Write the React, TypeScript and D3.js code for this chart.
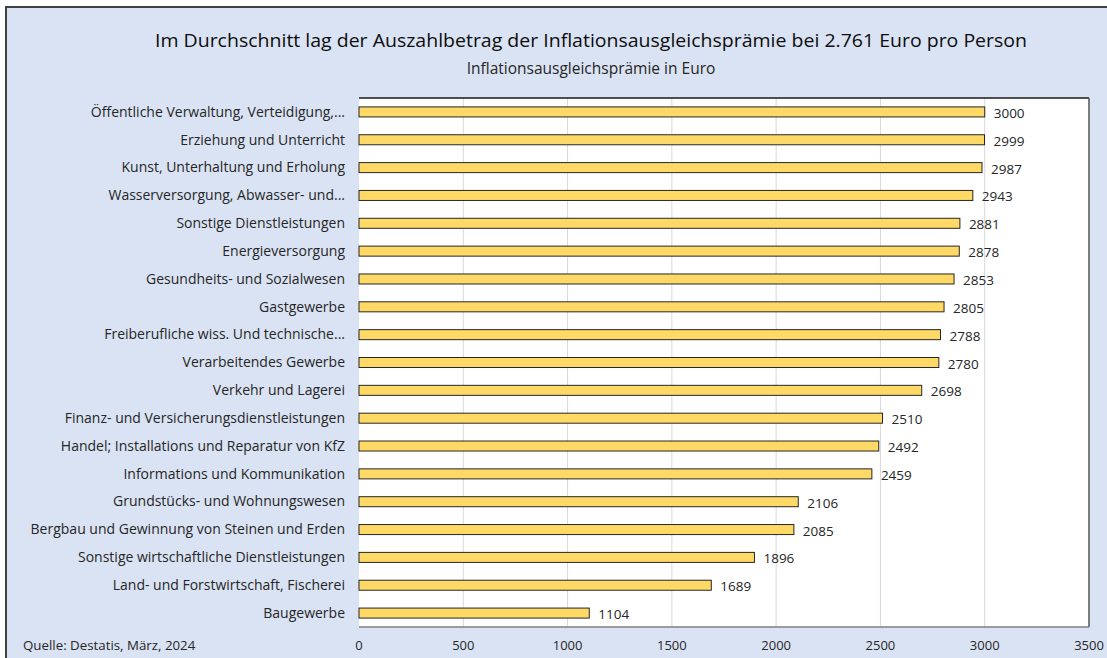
import React from "react";
import * as d3 from "d3";

const categories = [
  "Öffentliche Verwaltung, Verteidigung,...",
  "Erziehung und Unterricht",
  "Kunst, Unterhaltung und Erholung",
  "Wasserversorgung, Abwasser- und...",
  "Sonstige Dienstleistungen",
  "Energieversorgung",
  "Gesundheits- und Sozialwesen",
  "Gastgewerbe",
  "Freiberufliche wiss. Und technische...",
  "Verarbeitendes Gewerbe",
  "Verkehr und Lagerei",
  "Finanz- und Versicherungsdienstleistungen",
  "Handel; Installations und Reparatur von KfZ",
  "Informations und Kommunikation",
  "Grundstücks- und Wohnungswesen",
  "Bergbau und Gewinnung von Steinen und Erden",
  "Sonstige wirtschaftliche Dienstleistungen",
  "Land- und Forstwirtschaft, Fischerei",
  "Baugewerbe",
];
const values = [3000, 2999, 2987, 2943, 2881, 2878, 2853, 2805, 2788, 2780, 2698, 2510, 2492, 2459, 2106, 2085, 1896, 1689, 1104];
const xTicks = [0, 500, 1000, 1500, 2000, 2500, 3000, 3500];

const title = "Im Durchschnitt lag der Auszahlbetrag der Inflationsausgleichsprämie bei 2.761 Euro pro Person";
const subtitle = "Inflationsausgleichsprämie in Euro";
const source = "Quelle: Destatis, März, 2024";

const W = 1107;
const H = 658;
const plot = { left: 359, right: 1089, top: 98, bottom: 627 };
const FONT = "'Open Sans', Lato, sans-serif";
const TEXT = "#262626";

export default function App() {
  const x = d3.scaleLinear().domain([0, 3500]).range([plot.left, plot.right]);
  const y = d3.scaleBand<string>().domain(categories).range([plot.top, plot.bottom]).paddingInner(0.64).paddingOuter(0.32);
  const bh = y.bandwidth();

  return (
    <div style={{ position: "absolute", left: 0, top: 0 }}>
      <svg width={W} height={H} style={{ display: "block" }} fontFamily={FONT}>
        <rect x={0} y={0} width={W} height={H} fill="#ffffff" />
        <rect x={6} y={7} width={W + 10} height={H + 10} fill="#dae3f3" stroke="#404040" strokeWidth={2} />
        <text x={591} y={47} textAnchor="middle" fontSize={18.3} fill="#0d0d0d" textLength={872} lengthAdjust="spacingAndGlyphs">{title}</text>
        <text x={591} y={74} textAnchor="middle" fontSize={15.5} fill={TEXT}>{subtitle}</text>

        <rect x={plot.left} y={plot.top} width={plot.right - plot.left} height={plot.bottom - plot.top} fill="#ffffff" />
        {xTicks.slice(1).map((t) => (
          <line key={t} x1={x(t)} x2={x(t)} y1={plot.top} y2={plot.bottom} stroke="#d9d9d9" strokeWidth={1} />
        ))}
        <line x1={plot.left} x2={plot.right} y1={plot.top} y2={plot.top} stroke="#1a1a1a" strokeWidth={1.5} />
        <line x1={plot.right} x2={plot.right} y1={plot.top} y2={plot.bottom} stroke="#595959" strokeWidth={1.5} />
        <line x1={plot.left} x2={plot.right} y1={plot.bottom} y2={plot.bottom} stroke="#7f7f7f" strokeWidth={1.5} />

        {categories.map((c, i) => {
          const yy = y(c)!;
          return (
            <g key={c}>
              <rect x={x(0)} y={yy} width={x(values[i]) - x(0)} height={bh} fill="#ffd966" stroke="#262626" strokeWidth={1} />
              <text x={x(values[i]) + 9} y={yy + bh / 2 + 6} fontSize={13.5} fill={TEXT}>{values[i]}</text>
              <text x={345} y={yy + bh / 2 + 1} dominantBaseline="middle" textAnchor="end" fontSize={14} fill={TEXT}>{c}</text>
            </g>
          );
        })}

        {xTicks.map((t) => (
          <text key={t} x={x(t)} y={650} textAnchor="middle" fontSize={13} fill={TEXT}>{t}</text>
        ))}
        <text x={23} y={650} fontSize={13.3} fill={TEXT}>{source}</text>
      </svg>
    </div>
  );
}
